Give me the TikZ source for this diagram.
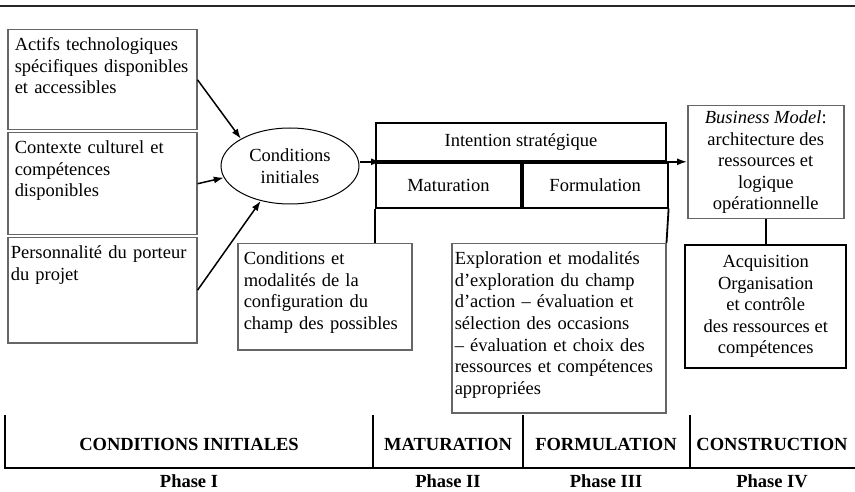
\documentclass[tikz,border=0pt]{standalone}
\usepackage{fontspec}
\setmainfont{Liberation Serif}
\usepackage{tikz}
\usetikzlibrary{positioning,shapes.geometric,arrows.meta,calc}

\begin{document}
\begin{tikzpicture}[
  x=1pt, y=-1pt,
  every node/.style={font=\fontsize{18.5}{21.6}\selectfont},
  lbox/.style={draw=black!60, line width=1.5pt, anchor=north west,
               align=left, inner xsep=7pt, inner ysep=7pt,
               text height=14pt},
  cbox/.style={draw=black!60, line width=1.5pt, align=center,
               inner sep=2pt},
  frame/.style={draw, line width=1.8pt, inner sep=0pt, anchor=north west},
  ell/.style={ellipse, draw, line width=1pt, align=center,
              minimum width=138pt, minimum height=76pt, inner sep=0pt},
  arr/.style={-{Latex[length=10pt,width=7pt]}, line width=1.5pt},
  link/.style={line width=1.8pt},
  phase/.style={font=\fontsize{18.5}{21.6}\selectfont\bfseries, anchor=base}
]
\useasboundingbox (0,0) rectangle (855,492);

%% --- Top rule -------------------------------------------------
\draw[line width=2.4pt, black!85] (0,6) -- (855,6);

%% --- Left: initial factors ------------------------------------
\node[lbox, text width=175pt, text depth=72pt] (actifs) at (7,29)
     {Actifs technologiques\\spécifiques disponibles\\et accessibles};

\node[lbox, text width=175pt, text depth=74pt, below=1.5pt of actifs] (contexte)
     {Contexte culturel et\\compétences\\disponibles};

\node[lbox, inner xsep=3pt, text width=183pt, text depth=77pt,
      below=1.5pt of contexte] (perso)
     {Personnalité du porteur\\du projet};

%% --- Initial conditions ---------------------------------------
\node[ell] (init) at (290,166) {Conditions\\initiales};

\draw[arr] (actifs.east) -- (init.north west);
\draw[arr] (contexte.east) -- (init.190);
\draw[arr] (perso.east) -- (init.230);

%% --- Strategic intention frame --------------------------------
\node[frame, minimum width=290pt, minimum height=38pt] (intent) at (375,122)
     {Intention stratégique};
\node[frame, minimum width=145pt, minimum height=45pt] (matur)
     at (intent.south west) {Maturation};
\node[frame, minimum width=145pt, minimum height=45pt] (formu)
     at (matur.north east) {Formulation};

\draw[arr] (intent.south west -| init.east) -- ([xshift=6pt]intent.south west);

%% --- Business model -------------------------------------------
\node[cbox, minimum width=156pt, minimum height=113pt, anchor=north west]
     (bm) at (687,105)
     {\textit{Business Model}:\\architecture des\\ressources et\\logique\\opérationnelle};

\draw[arr] (intent.south east) -- (intent.south east -| bm.west);

\node[cbox, draw=black, line width=2pt, minimum width=161pt,
      minimum height=122pt, below=25pt of bm] (acq)
     {Acquisition\\Organisation\\et contrôle\\des ressources et\\compétences};

\draw[link] (bm) -- (acq);

%% --- Lower boxes ----------------------------------------------
\node[lbox, inner xsep=6pt, text width=162pt, text depth=78pt] (config) at (237,243)
     {Conditions et\\modalités de la\\configuration du\\champ des possibles};

\node[lbox, inner xsep=3pt, text width=208pt, text depth=141pt] (explo) at (451,243)
     {Exploration et modalités\\d’exploration du champ\\d’action – évaluation et\\sélection des occasions\\– évaluation et choix des\\ressources et compétences\\appropriées};

\draw[link] (matur.south west) -- (matur.south west |- config.north);
\draw[link] (formu.south east) -- (explo.north east);

%% --- Timeline -------------------------------------------------
\foreach \x in {5,373,523,690}
  \draw[link] (\x,415) -- (\x,468);
\draw[line width=2.2pt] (4,468) -- (855,468);

\foreach \x/\lab/\ph [count=\i] in {189/CONDITIONS INITIALES/Phase I,
                                    448/MATURATION/Phase II,
                                    606/FORMULATION/Phase III,
                                    772/CONSTRUCTION/Phase IV}{
  \node[phase] (sec\i) at (\x,450) {\lab};
  \node[phase] (ph\i) at (\x,487) {\ph};
}

\end{tikzpicture}
\end{document}
